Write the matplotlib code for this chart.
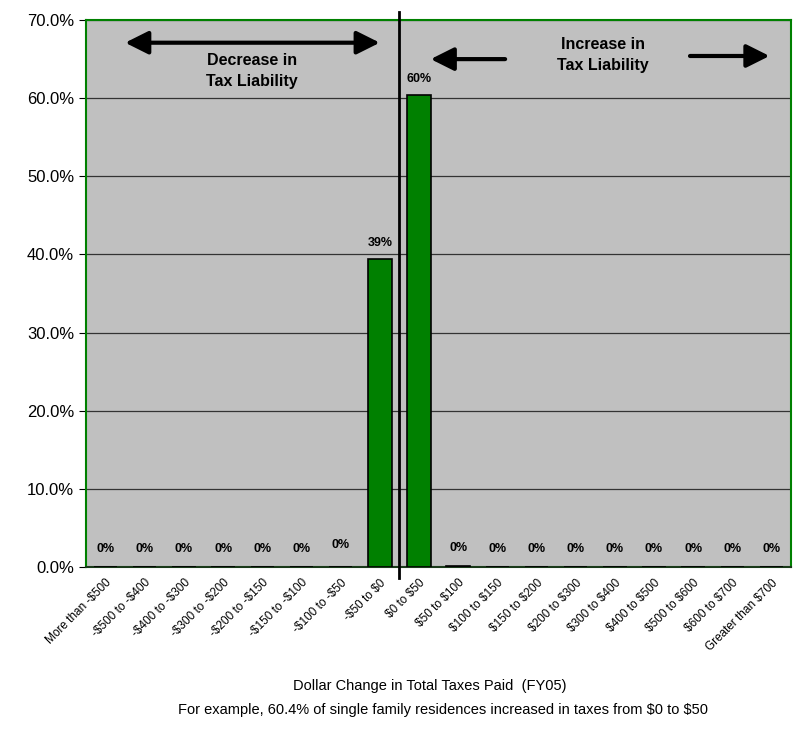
import numpy as np
import matplotlib.pyplot as plt
from matplotlib.ticker import FuncFormatter

plt.rcParams['font.family'] = ['Liberation Sans', 'DejaVu Sans']
plt.rcParams['text.parse_math'] = False

# Share of single family residences by change in total taxes paid (FY05)
categories = [
    "More than -$500", "-$500 to -$400", "-$400 to -$300", "-$300 to -$200",
    "-$200 to -$150", "-$150 to -$100", "-$100 to -$50", "-$50 to $0",
    "$0 to $50", "$50 to $100", "$100 to $150", "$150 to $200",
    "$200 to $300", "$300 to $400", "$400 to $500", "$500 to $600",
    "$600 to $700", "Greater than $700",
]
share_pct = [0.0, 0.0, 0.0, 0.0, 0.0, 0.0, 0.0, 39.4, 60.4, 0.1,
             0.0, 0.0, 0.0, 0.0, 0.0, 0.0, 0.0, 0.0]
yticks = [0, 10, 20, 30, 40, 50, 60, 70]

fig = plt.figure(figsize=(7.94, 7.29), dpi=100)
ax = fig.add_axes([0.1083, 0.2222, 0.888, 0.7503])
ax.set_facecolor("#C0C0C0")

x = np.arange(len(categories))
ax.bar(x, share_pct, width=0.6, color="#008000", edgecolor="black",
       linewidth=1.2, zorder=3)

ax.set_xlim(-0.5, len(categories) - 0.5)
ax.set_ylim(0, 70)
ax.set_yticks(yticks)
ax.yaxis.set_major_formatter(FuncFormatter(lambda v, p: f"{v:.1f}%"))
ax.tick_params(axis="y", labelsize=12, length=5, direction="out")
ax.grid(axis="y", color="#333333", linewidth=0.9, zorder=1)

ax.set_xticks(x)
ax.set_xticklabels(categories, rotation=45, ha="right", rotation_mode="anchor",
                   fontsize=8.5)
ax.tick_params(axis="x", length=0, pad=7)

for side in ["top", "left", "right"]:
    ax.spines[side].set_color("#008000")
    ax.spines[side].set_linewidth(1.5)
ax.spines["bottom"].set_color("#1a3a1a")
ax.spines["bottom"].set_linewidth(1.5)

# value labels above each bar
for xi, v in zip(x, share_pct):
    lift = 1.3 if v > 1 else 1.6
    if xi == 6:
        lift = 2.0
    ax.text(xi, v + lift, f"{v:.0f}%", ha="center", va="bottom",
            fontsize=9, fontweight="bold", zorder=4)

# divider between decreases and increases
ax.plot([7.5, 7.5], [-1.4, 71.0], color="black", linewidth=2,
        clip_on=False, zorder=5)

head = "head_length=1.4,head_width=0.7"
ax.annotate("", xy=(0.5, 67.1), xytext=(7.0, 67.1),
            arrowprops=dict(arrowstyle="<|-|>," + head, color="black",
                            linewidth=3, shrinkA=0, shrinkB=0))
single = dict(arrowstyle="-|>," + head, color="black", linewidth=3,
              shrinkA=0, shrinkB=0)
ax.annotate("", xy=(8.3, 65.0), xytext=(10.2, 65.0), arrowprops=single)
ax.annotate("", xy=(16.95, 65.4), xytext=(14.92, 65.4), arrowprops=single)

ax.text(3.74, 65.8, "Decrease in\nTax Liability", ha="center", va="top",
        fontsize=11.5, fontweight="bold", linespacing=1.55)
ax.text(12.7, 67.8, "Increase in\nTax Liability", ha="center", va="top",
        fontsize=11.5, fontweight="bold", linespacing=1.45)

fig.text(0.541, 0.053, "Dollar Change in Total Taxes Paid  (FY05)",
         ha="center", fontsize=10.5)
fig.text(0.558, 0.021,
         "For example, 60.4% of single family residences increased in taxes from $0 to $50",
         ha="center", fontsize=10.5)

fig.savefig("out.png", dpi=100)
